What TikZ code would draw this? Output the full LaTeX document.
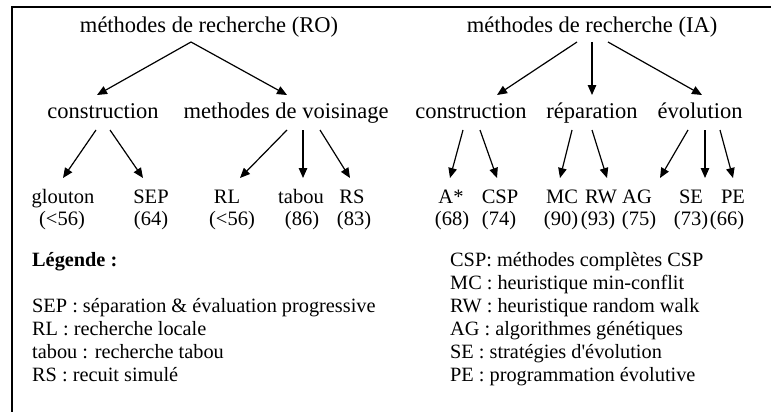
\documentclass[tikz,border=0pt]{standalone}
\usepackage{fontspec}
\setmainfont{Liberation Serif}
\usetikzlibrary{arrows.meta}

\begin{document}
\begin{tikzpicture}[x=1pt, y=-1pt,
		meth/.style={font=\fontsize{22.5}{26}\selectfont, inner sep=0pt, text height=15pt, text depth=4pt, anchor=base},
		titre/.style={meth, outer ysep=5pt},
		niveau/.style={meth, outer ysep=8pt},
		feuille/.style={meth, font=\fontsize{20.5}{24}\selectfont, outer ysep=10pt},
		score/.style={meth, font=\fontsize{20.5}{24}\selectfont},
		legende/.style={font=\fontsize{20.3}{23}\selectfont, align=left, inner sep=0pt, anchor=base west}]
			\useasboundingbox (0,0) rectangle (771,412);

			\draw[line width=1.6pt] (12,412) -- (12,7) -- (771,7);

			% methodes RO
			\node[titre] (ro) at (209,33) {méthodes de recherche (RO)};
			\node[niveau] (roCons) at (103,118) {construction};
			\node[niveau] (roVois) at (286,118) {methodes de voisinage};

			\node[feuille] (glouton) at (63,203) {glouton};
			\node[feuille] (sep) at (151,203) {SEP};
			\node[feuille] (rl) at (227,203) {RL};
			\node[feuille] (tabou) at (301,203) {tabou};
			\node[feuille] (rs) at (352,203) {RS};

			\node[score] (gloutonVal) at (62,225) {(<56)};
			\node[score] (sepVal) at (151,225) {(64)};
			\node[score] (rlVal) at (232,225) {(<56)};
			\node[score] (tabouVal) at (302,225) {(86)};
			\node[score] (rsVal) at (354,225) {(83)};

			% methodes IA
			\node[titre] (ia) at (592,33) {méthodes de recherche (IA)};
			\node[niveau] (iaCons) at (471,118) {construction};
			\node[niveau] (iaRep) at (592,118) {réparation};
			\node[niveau] (iaEvol) at (700,118) {évolution};

			\node[feuille] (astar) at (451,203) {A*};
			\node[feuille] (csp) at (500,203) {CSP};
			\node[feuille] (mc) at (562,203) {MC};
			\node[feuille] (rw) at (601,203) {RW};
			\node[feuille] (ag) at (637,203) {AG};
			\node[feuille] (se) at (691,203) {SE};
			\node[feuille] (pe) at (733,203) {PE};

			\node[score] (astarVal) at (452,225) {(68)};
			\node[score] (cspVal) at (499,225) {(74)};
			\node[score] (mcVal) at (561,225) {(90)};
			\node[score] (rwVal) at (598,225) {(93)};
			\node[score] (agVal) at (639,225) {(75)};
			\node[score] (seVal) at (691,225) {(73)};
			\node[score] (peVal) at (727,225) {(66)};

			\begin{scope}[-{Triangle[length=10pt, width=8.5pt]}, line width=1.2pt]
				\draw ([xshift=-18pt]ro.south) -- ([xshift=-6pt]roCons.north);
				\draw ([xshift=-18pt]ro.south) -- ([xshift=1pt]roVois.north);
				\draw ([xshift=-7pt]roCons.south) -- (glouton.north);
				\draw ([xshift=7pt]roCons.south) -- ([xshift=-8pt]sep.north);
				\draw ([xshift=1pt]roVois.south) -- ([xshift=13pt]rl.north);
				\draw ([xshift=17pt]roVois.south) -- ([xshift=2pt]tabou.north);
				\draw ([xshift=34pt]roVois.south) -- ([xshift=-2pt]rs.north);

				\draw ([xshift=-15pt]ia.south) -- ([xshift=26pt]iaCons.north);
				\draw (ia.south) -- (iaRep.north);
				\draw ([xshift=16pt]ia.south) -- ([xshift=2pt]iaEvol.north);
				\draw ([xshift=-8pt]iaCons.south) -- ([xshift=-1pt]astar.north);
				\draw ([xshift=9pt]iaCons.south) -- ([xshift=-3pt]csp.north);
				\draw ([xshift=-20pt]iaRep.south) -- ([xshift=-2pt]mc.north);
				\draw (iaRep.south) -- ([xshift=6pt]rw.north);
				\draw ([xshift=-12pt]iaEvol.south) -- ([xshift=23pt]ag.north);
				\draw ([xshift=5pt]iaEvol.south) -- ([xshift=14pt]se.north);
				\draw ([xshift=20pt]iaEvol.south) -- (pe.north);
			\end{scope}

			% legende (ancree sur la derniere ligne)
			\node[legende] (legGauche) at (32,381) {\textbf{Légende :}\\[23pt]SEP : séparation \& évaluation progressive\\RL : recherche locale\\tabou : recherche tabou\\RS : recuit simulé};
			\node[legende] (legDroite) at (450,381) {CSP: méthodes complètes CSP\\MC : heuristique min-conflit\\RW : heuristique random walk\\AG : algorithmes génétiques\\SE : stratégies d\textquotesingle évolution\\PE : programmation évolutive};
		\end{tikzpicture}
\end{document}
